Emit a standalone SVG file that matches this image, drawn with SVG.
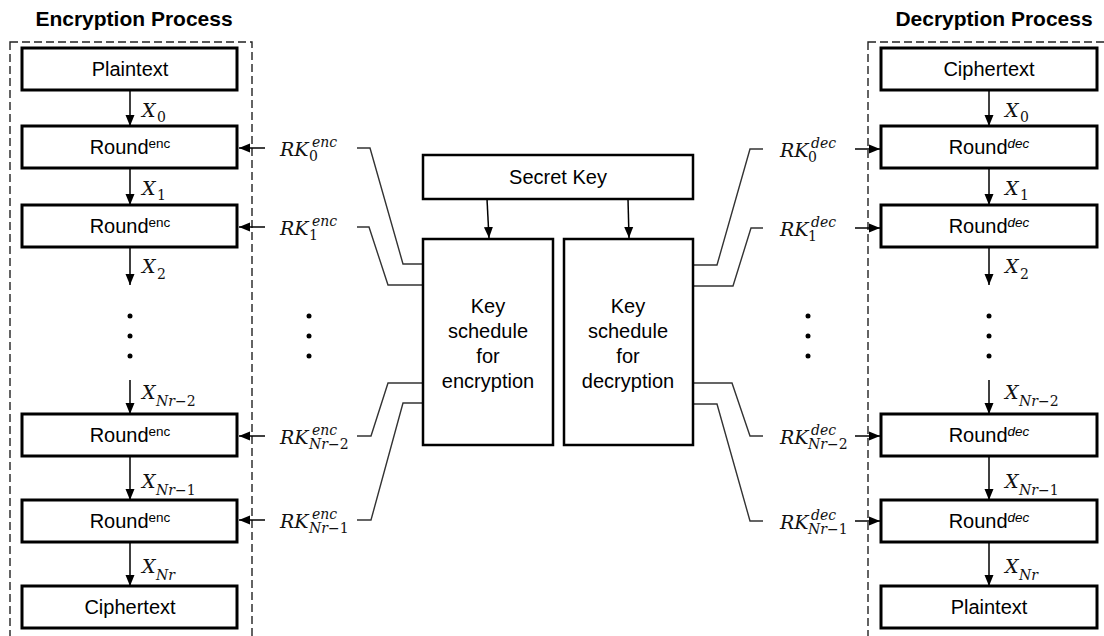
<svg xmlns="http://www.w3.org/2000/svg" width="1104" height="636" viewBox="0 0 1104 636">
<defs>
<marker id="ah" markerUnits="userSpaceOnUse" markerWidth="12" markerHeight="12" viewBox="0 0 12 12" refX="11" refY="6" orient="auto">
<path d="M0,1.5 L11,6 L0,10.5 Z" fill="#000"/>
</marker>
<style>
.box{fill:#fff;stroke:#000;stroke-width:3}
.ks{fill:#fff;stroke:#000;stroke-width:2.5}
.dash{fill:none;stroke:#222;stroke-width:1.4;stroke-dasharray:8,4}
.t{font-family:"Liberation Sans",Arial,sans-serif;font-size:20px;fill:#000;text-anchor:middle}
.sup{font-size:13.5px}
.supi{font-size:13.5px;font-style:italic}
.title{font-family:"Liberation Sans",Arial,sans-serif;font-size:21px;font-weight:bold;fill:#000;text-anchor:middle}
.m{font-family:"DejaVu Serif","Liberation Serif",serif;font-style:italic;font-size:19px;fill:#111}
.ms{font-family:"DejaVu Serif","Liberation Serif",serif;font-style:italic;font-size:14px;fill:#111}
.n{font-style:normal}
.arr{stroke:#000;stroke-width:1.5;fill:none;marker-end:url(#ah)}
.con{stroke:#333;stroke-width:1.4;fill:none}
.dot{fill:#000}
</style>
</defs>

<text class="title" x="134" y="26">Encryption Process</text>
<text class="title" x="994" y="26">Decryption Process</text>
<rect class="dash" x="10" y="42" width="242" height="620"/>
<rect class="dash" x="868" y="42" width="260" height="620"/>

<g id="connectors">
<line class="arr" x1="130" y1="90" x2="130" y2="126"/>
<line class="arr" x1="130" y1="168" x2="130" y2="205"/>
<line class="arr" x1="130" y1="247" x2="130" y2="285"/>
<line class="arr" x1="130" y1="380" x2="130" y2="414"/>
<line class="arr" x1="130" y1="456" x2="130" y2="500"/>
<line class="arr" x1="130" y1="542" x2="130" y2="586"/>
<line class="arr" x1="989" y1="90" x2="989" y2="126"/>
<line class="arr" x1="989" y1="168" x2="989" y2="205"/>
<line class="arr" x1="989" y1="247" x2="989" y2="285"/>
<line class="arr" x1="989" y1="380" x2="989" y2="414"/>
<line class="arr" x1="989" y1="456" x2="989" y2="500"/>
<line class="arr" x1="989" y1="542" x2="989" y2="586"/>
<line class="arr" x1="265" y1="148" x2="239" y2="148"/>
<line class="arr" x1="265" y1="227" x2="239" y2="227"/>
<line class="arr" x1="265" y1="436" x2="239" y2="436"/>
<line class="arr" x1="265" y1="520" x2="239" y2="520"/>
<line class="arr" x1="855" y1="149" x2="880" y2="149"/>
<line class="arr" x1="855" y1="228" x2="880" y2="228"/>
<line class="arr" x1="855" y1="436" x2="880" y2="436"/>
<line class="arr" x1="855" y1="521" x2="880" y2="521"/>
<line class="arr" x1="487" y1="199" x2="489" y2="238"/>
<line class="arr" x1="628" y1="199" x2="629" y2="238"/>
<path class="con" d="M357,148 H370 L403,264 H423"/>
<path class="con" d="M357,227 H369 L388,285 H423"/>
<path class="con" d="M357,436 H371 L388,383 H423"/>
<path class="con" d="M357,520 H371 L403,403 H423"/>
<path class="con" d="M763,149 H750 L717,265 H693"/>
<path class="con" d="M763,228 H751 L733,286 H693"/>
<path class="con" d="M763,436 H750 L732,383 H693"/>
<path class="con" d="M763,521 H750 L717,404 H693"/>
</g>

<g id="enc-plaintext"><rect class="box" x="22" y="48" width="215" height="42"/><text class="t" x="130" y="76">Plaintext</text></g>
<g id="enc-round0"><rect class="box" x="22" y="126" width="215" height="42"/><text class="t" x="130" y="154">Round<tspan class="sup" dy="-6">enc</tspan></text></g>
<g id="enc-round1"><rect class="box" x="22" y="205" width="215" height="42"/><text class="t" x="130" y="233">Round<tspan class="sup" dy="-6">enc</tspan></text></g>
<g id="enc-roundnr2"><rect class="box" x="22" y="414" width="215" height="42"/><text class="t" x="130" y="442">Round<tspan class="sup" dy="-6">enc</tspan></text></g>
<g id="enc-roundnr1"><rect class="box" x="22" y="500" width="215" height="42"/><text class="t" x="130" y="528">Round<tspan class="sup" dy="-6">enc</tspan></text></g>
<g id="enc-ciphertext"><rect class="box" x="22" y="586" width="215" height="42"/><text class="t" x="130" y="614">Ciphertext</text></g>

<g id="dec-ciphertext"><rect class="box" x="881" y="48" width="216" height="42"/><text class="t" x="989" y="76">Ciphertext</text></g>
<g id="dec-round0"><rect class="box" x="881" y="126" width="216" height="42"/><text class="t" x="989" y="154">Round<tspan class="supi" dy="-6">dec</tspan></text></g>
<g id="dec-round1"><rect class="box" x="881" y="205" width="216" height="42"/><text class="t" x="989" y="233">Round<tspan class="supi" dy="-6">dec</tspan></text></g>
<g id="dec-roundnr2"><rect class="box" x="881" y="414" width="216" height="42"/><text class="t" x="989" y="442">Round<tspan class="supi" dy="-6">dec</tspan></text></g>
<g id="dec-roundnr1"><rect class="box" x="881" y="500" width="216" height="42"/><text class="t" x="989" y="528">Round<tspan class="supi" dy="-6">dec</tspan></text></g>
<g id="dec-plaintext"><rect class="box" x="881" y="586" width="216" height="42"/><text class="t" x="989" y="614">Plaintext</text></g>

<g id="secret-key"><rect class="box" x="423" y="155" width="270" height="44" style="stroke-width:2.5"/><text class="t" x="558" y="184">Secret Key</text></g>
<g id="ks-enc"><rect class="ks" x="423" y="239" width="130" height="206"/>
<text class="t" x="488" y="313">Key</text><text class="t" x="488" y="338">schedule</text><text class="t" x="488" y="363">for</text><text class="t" x="488" y="388">encryption</text></g>
<g id="ks-dec"><rect class="ks" x="564" y="239" width="129" height="206"/>
<text class="t" x="628" y="313">Key</text><text class="t" x="628" y="338">schedule</text><text class="t" x="628" y="363">for</text><text class="t" x="628" y="388">decryption</text></g>

<g id="dots">
<circle class="dot" cx="130" cy="316" r="2.5"/><circle class="dot" cx="130" cy="336" r="2.5"/><circle class="dot" cx="130" cy="356" r="2.5"/>
<circle class="dot" cx="309" cy="316" r="2.5"/><circle class="dot" cx="309" cy="336" r="2.5"/><circle class="dot" cx="309" cy="356" r="2.5"/>
<circle class="dot" cx="808" cy="316" r="2.5"/><circle class="dot" cx="808" cy="336" r="2.5"/><circle class="dot" cx="808" cy="356" r="2.5"/>
<circle class="dot" cx="989" cy="316" r="2.5"/><circle class="dot" cx="989" cy="336" r="2.5"/><circle class="dot" cx="989" cy="356" r="2.5"/>
</g>

<g id="x-labels">
<text class="m" x="142" y="117">X</text><text class="ms n" x="157" y="122">0</text>
<text class="m" x="142" y="195">X</text><text class="ms n" x="157" y="200">1</text>
<text class="m" x="142" y="273">X</text><text class="ms n" x="157" y="279">2</text>
<text class="m" x="142" y="399">X</text><text class="ms" x="156" y="406">Nr−<tspan class="n">2</tspan></text>
<text class="m" x="142" y="488">X</text><text class="ms" x="156" y="495">Nr−<tspan class="n">1</tspan></text>
<text class="m" x="142" y="573">X</text><text class="ms" x="156" y="580">Nr</text>
<text class="m" x="1005" y="117">X</text><text class="ms n" x="1020" y="122">0</text>
<text class="m" x="1005" y="195">X</text><text class="ms n" x="1020" y="200">1</text>
<text class="m" x="1005" y="273">X</text><text class="ms n" x="1020" y="279">2</text>
<text class="m" x="1005" y="399">X</text><text class="ms" x="1019" y="406">Nr−<tspan class="n">2</tspan></text>
<text class="m" x="1005" y="488">X</text><text class="ms" x="1019" y="495">Nr−<tspan class="n">1</tspan></text>
<text class="m" x="1005" y="573">X</text><text class="ms" x="1019" y="580">Nr</text>
</g>

<g id="rk-labels">
<text class="m" x="280" y="156">RK</text><text class="ms" x="312" y="147">enc</text><text class="ms n" x="309" y="161">0</text>
<text class="m" x="280" y="235">RK</text><text class="ms" x="312" y="226">enc</text><text class="ms n" x="309" y="240">1</text>
<text class="m" x="280" y="444">RK</text><text class="ms" x="312" y="435">enc</text><text class="ms" x="309" y="449">Nr−<tspan class="n">2</tspan></text>
<text class="m" x="280" y="528">RK</text><text class="ms" x="312" y="519">enc</text><text class="ms" x="309" y="533">Nr−<tspan class="n">1</tspan></text>
<text class="m" x="780" y="157">RK</text><text class="ms" x="811" y="148">dec</text><text class="ms n" x="808" y="162">0</text>
<text class="m" x="780" y="236">RK</text><text class="ms" x="811" y="227">dec</text><text class="ms n" x="808" y="241">1</text>
<text class="m" x="780" y="444">RK</text><text class="ms" x="811" y="435">dec</text><text class="ms" x="808" y="449">Nr−<tspan class="n">2</tspan></text>
<text class="m" x="780" y="529">RK</text><text class="ms" x="811" y="520">dec</text><text class="ms" x="808" y="534">Nr−<tspan class="n">1</tspan></text>
</g>
</svg>
